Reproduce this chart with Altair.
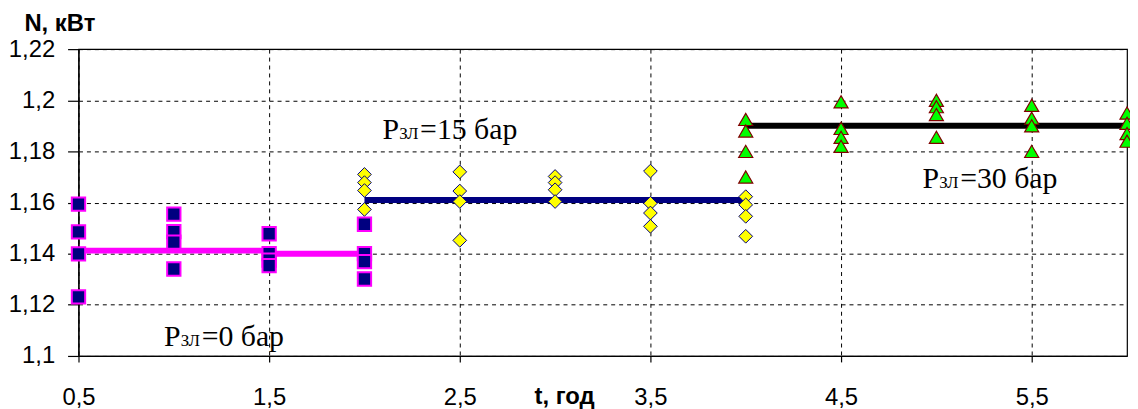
import altair as alt
import pandas as pd

# ---- data ----
# P_зл = 0 бар (squares)
sq_x = [0.5, 0.5, 0.5, 0.5, 1.0, 1.0, 1.0, 1.0, 1.5, 1.5, 1.5, 1.5, 2.0, 2.0, 2.0, 2.0]
sq_y = [1.1594, 1.1485, 1.1399, 1.1231, 1.1555, 1.1486, 1.1445, 1.1340,
        1.1478, 1.1400, 1.1375, 1.1353, 1.1515, 1.1400, 1.1369, 1.1301]
# P_зл = 15 бар (diamonds)
dm_x = [2.0, 2.0, 2.0, 2.0, 2.5, 2.5, 2.5, 2.5, 3.0, 3.0, 3.0, 3.0,
        3.5, 3.5, 3.5, 3.5, 4.0, 4.0, 4.0, 4.0]
dm_y = [1.1710, 1.1678, 1.1647, 1.1573, 1.1720, 1.1645, 1.1604, 1.1452,
        1.1702, 1.1678, 1.1650, 1.1604, 1.1723, 1.1597, 1.1559, 1.1507,
        1.1623, 1.1591, 1.1546, 1.1468]
# P_зл = 30 бар (triangles)
tr_x = [4.0, 4.0, 4.0, 4.0, 4.5, 4.5, 4.5, 4.5, 5.0, 5.0, 5.0, 5.0,
        5.5, 5.5, 5.5, 5.5, 6.0, 6.0, 6.0, 6.0]
tr_y = [1.1925, 1.1880, 1.1800, 1.1700, 1.1994, 1.1890, 1.1855, 1.1820,
        1.2000, 1.1975, 1.1944, 1.1855, 1.1980, 1.1930, 1.1900, 1.1800,
        1.1950, 1.1910, 1.1870, 1.1840]
# mean lines
l1_x = [0.5, 1.5, 1.5, 2.0]
l1_y = [1.1412, 1.1412, 1.1400, 1.1400]
l2_x = [2.0, 4.0]
l2_y = [1.161, 1.161]
l3_x = [4.0, 6.0]
l3_y = [1.190, 1.190]
# annotations
ann_x = [0.948, 2.094, 4.927]
ann_y = [1.1039, 1.1849, 1.1655]
ann_rest = ["=0 бар", "=15 бар", "=30 бар"]
# axis ticks
x_ticks = [0.5, 1.5, 2.5, 3.5, 4.5, 5.5]
y_ticks = [1.10, 1.12, 1.14, 1.16, 1.18, 1.20, 1.22]

LABEL_FONT = "Liberation Sans"

X = alt.X("x:Q",
          scale=alt.Scale(domain=[0.5, 6.0], nice=False, zero=False),
          axis=alt.Axis(values=x_ticks, title="t, год",
                        labelExpr="replace(format(datum.value, '.1f'), '.', ',')",
                        grid=True, gridDash=[4, 4], gridColor="black", gridWidth=1,
                        domainColor="black", domainWidth=1.2,
                        tickColor="black", tickSize=6, tickWidth=1.2,
                        labelFont=LABEL_FONT, labelFontSize=24, labelColor="black",
                        labelPadding=24, labelFlush=False, labelOverlap=False,
                        titleFont="Liberation Sans", titleFontSize=24, titleFontWeight="bold",
                        titleColor="black", titleX=489, titleY=48,
                        titleAlign="center", titleBaseline="alphabetic"))
Y = alt.Y("y:Q",
          scale=alt.Scale(domain=[1.10, 1.22], nice=False, zero=False),
          axis=alt.Axis(values=y_ticks, title="N, кВт",
                        labelExpr="replace(format(datum.value, '.2~f'), '.', ',')",
                        grid=True, gridDash=[4, 4], gridColor="black", gridWidth=1,
                        domainColor="black", domainWidth=1.2,
                        tickColor="black", tickSize=11, tickWidth=1.2,
                        labelFont=LABEL_FONT, labelFontSize=24, labelColor="black",
                        labelPadding=13, labelFlush=False, labelOverlap=False,
                        titleFont="Liberation Sans", titleFontSize=24, titleFontWeight="bold",
                        titleColor="black", titleAngle=0, titleX=-55, titleY=-19,
                        titleAlign="left", titleBaseline="alphabetic"))

df_sq = pd.DataFrame({"x": sq_x, "y": sq_y})
df_dm = pd.DataFrame({"x": dm_x, "y": dm_y})
df_tr = pd.DataFrame({"x": tr_x, "y": tr_y})
df_l1 = pd.DataFrame({"x": l1_x, "y": l1_y, "i": list(range(len(l1_x)))})
df_l2 = pd.DataFrame({"x": l2_x, "y": l2_y, "i": list(range(len(l2_x)))})
df_l3 = pd.DataFrame({"x": l3_x, "y": l3_y, "i": list(range(len(l3_x)))})
df_ann = pd.DataFrame({"x": ann_x, "y": ann_y, "rest": ann_rest})

line1 = alt.Chart(df_l1).mark_line(color="#FF00FF", strokeWidth=6).encode(x=X, y=Y, order="i:Q")
line2 = alt.Chart(df_l2).mark_line(color="#000080", strokeWidth=6).encode(x=X, y=Y, order="i:Q")
line3 = alt.Chart(df_l3).mark_line(color="black", strokeWidth=6).encode(x=X, y=Y, order="i:Q")

pts_sq = alt.Chart(df_sq).mark_point(shape="square", filled=True, fill="#000080",
                                     stroke="#FF00FF", strokeWidth=2, size=180,
                                     opacity=1).encode(x=X, y=Y)
pts_dm = alt.Chart(df_dm).mark_point(shape="diamond", filled=True, fill="#FFFF00",
                                     stroke="#000080", strokeWidth=1, size=190,
                                     opacity=1).encode(x=X, y=Y)
pts_tr = alt.Chart(df_tr).mark_point(shape="triangle-up", filled=True, fill="#00FF00",
                                     stroke="#800000", strokeWidth=1.2, size=200,
                                     opacity=1).encode(x=X, y=Y)

txt_p = alt.Chart(df_ann).mark_text(font="Liberation Serif", fontSize=30, align="left",
                                    baseline="alphabetic", color="black").encode(
    x=X, y=Y, text=alt.value("P"))
txt_sub = alt.Chart(df_ann).mark_text(font="Liberation Serif", fontSize=17, align="left",
                                      baseline="alphabetic", color="black", dx=17).encode(
    x=X, y=Y, text=alt.value("ЗЛ"))
txt_rest = alt.Chart(df_ann).mark_text(font="Liberation Serif", fontSize=30, align="left",
                                       baseline="alphabetic", color="black", dx=38).encode(
    x=X, y=Y, text="rest:N")

chart = alt.layer(line1, line2, line3, pts_sq, pts_dm, pts_tr, txt_p, txt_sub, txt_rest).properties(
    width=1056, height=309,
    autosize=alt.AutoSizeParams(type="none"),
    padding={"left": 71, "top": 40, "right": 3, "bottom": 52},
    background="white",
).configure_view(stroke="black", strokeWidth=1.2)

chart.save("out.html", embed_options={"renderer": "svg", "actions": False})
